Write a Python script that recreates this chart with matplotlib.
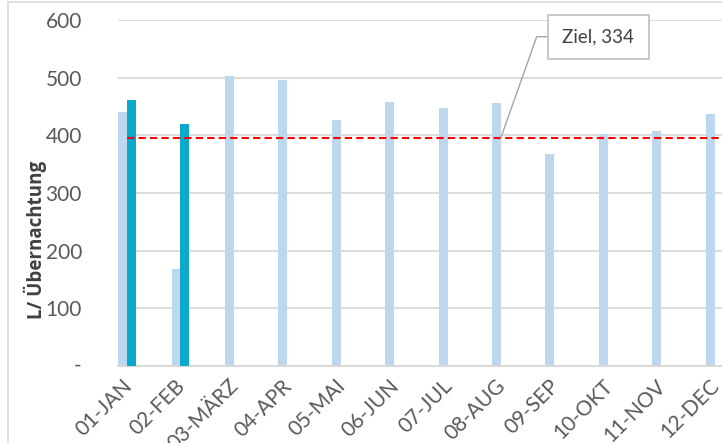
import matplotlib
matplotlib.use("Agg")
import matplotlib.pyplot as plt
import matplotlib.transforms as mtransforms
from matplotlib.patches import Rectangle
from matplotlib.lines import Line2D
import numpy as np

plt.rcParams['font.family'] = ['Lato', 'DejaVu Sans']

months = ['01-JAN', '02-FEB', '03-MÄRZ', '04-APR', '05-MAI', '06-JUN',
          '07-JUL', '08-AUG', '09-SEP', '10-OKT', '11-NOV', '12-DEC']
prev_year = [441, 168, 503, 496, 426, 458, 448, 456, 367, 402, 407, 437]
curr_year = [461, 420]
ziel = 396
ziel_label = 'Ziel, 334'
y_ticks = [100, 200, 300, 400, 500, 600]
y_label = 'L/ Übernachtung'

W, H = 722, 443
fig = plt.figure(figsize=(W / 100, H / 100), dpi=100)

# chart-area border
fig.patches.append(Rectangle((8 / W, -0.1), 1.2, 1.1 - 2 / H, transform=fig.transFigure,
                             fill=False, edgecolor='#D9D9D9', linewidth=1.2))

ax = fig.add_axes([118 / W, 1 - 366 / H, (W - 118) / W, 346 / H])
x = np.arange(len(months))
w = 0.165
ax.bar(x - w / 2, prev_year, width=w, color='#BDD7EE', zorder=2)
ax.bar(x[:len(curr_year)] + w / 2, curr_year, width=w, color='#0AA8CA', zorder=3)

ax.set_xlim(-0.17, 11.14)
ax.set_ylim(0, 600)
ax.hlines(ziel, x[0], ax.get_xlim()[1], colors='#FF0000', linestyles=(0, (3.5, 2)),
          linewidth=1.5, zorder=4)

ax.set_yticks([0] + y_ticks)
ax.set_yticklabels([''] + [str(v) for v in y_ticks])
ax.yaxis.grid(True, color='#D9D9D9', linewidth=1.3)
ax.set_axisbelow(True)
for s in ['top', 'right', 'left']:
    ax.spines[s].set_visible(False)
ax.spines['bottom'].set_color('#D9D9D9')
ax.spines['bottom'].set_linewidth(1.5)
ax.tick_params(axis='both', length=0, labelsize=15, colors='#595959')
ax.tick_params(axis='y', pad=26)
ax.set_xticks(x)
ax.set_xticklabels([])

# category labels, rotated, anchored at the right end of their baseline
offset = mtransforms.ScaledTranslation(6 / 100, -21 / 100, fig.dpi_scale_trans)
for xi, m in zip(x, months):
    ax.text(xi, 0, m, transform=ax.get_xaxis_transform() + offset, rotation=45,
            rotation_mode='anchor', ha='right', va='baseline', fontsize=15, color='#595959',
            clip_on=False)

# zero label shown as dash
fig.text(78 / W, 1 - 366 / H, '-', ha='center', va='center', fontsize=15, color='#595959')

fig.text(35 / W, 1 - 240 / H, y_label, rotation=90, ha='center', va='center',
         fontsize=13.5, fontweight='bold', color='#404040', family=['Open Sans', 'DejaVu Sans'])

# data label for target
bx0, bx1, by0, by1 = 547.7, 649, 15, 59
fig.patches.append(Rectangle((bx0 / W, 1 - by1 / H), (bx1 - bx0) / W, (by1 - by0) / H,
                             transform=fig.transFigure, facecolor='white',
                             edgecolor='#BFBFBF', linewidth=1.2, zorder=5))
fig.text((bx0 + bx1) / 2 / W, 1 - (by0 + by1) / 2 / H, ziel_label, ha='center', va='center',
         fontsize=13.5, color='#404040', zorder=6)
fig.canvas.draw()
px, py = ax.transData.transform((7, ziel))
fig.lines.append(Line2D([px / W, 536.7 / W, bx0 / W], [py / H, 1 - 36.7 / H, 1 - 36.7 / H],
                        transform=fig.transFigure, color='#A6A6A6', linewidth=1.0, zorder=5))

fig.savefig('out.png', dpi=100)
